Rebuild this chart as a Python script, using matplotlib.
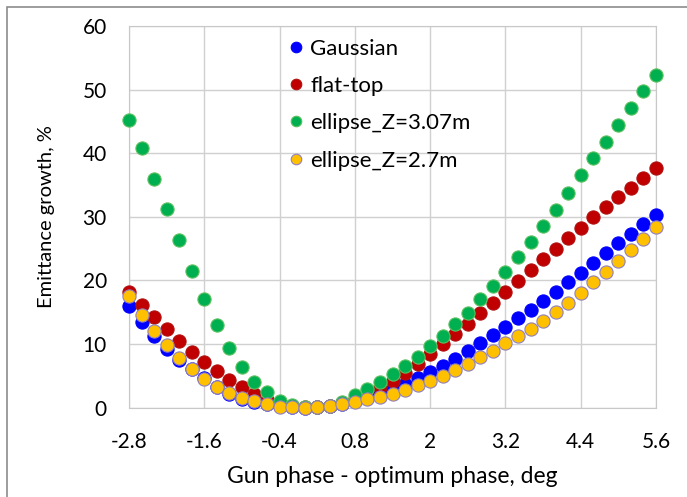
import numpy as np
import matplotlib
matplotlib.use('Agg')
import matplotlib.pyplot as plt
from matplotlib.patches import Rectangle

plt.rcParams['font.family'] = ['Lato', 'DejaVu Sans']

# gun phase offsets, deg
phase = [-2.8, -2.6, -2.4, -2.2, -2.0, -1.8, -1.6, -1.4, -1.2, -1.0, -0.8,
         -0.6, -0.4, -0.2, 0.0, 0.2, 0.4, 0.6, 0.8, 1.0, 1.2, 1.4, 1.6, 1.8,
         2.0, 2.2, 2.4, 2.6, 2.8, 3.0, 3.2, 3.4, 3.6, 3.8, 4.0, 4.2, 4.4,
         4.6, 4.8, 5.0, 5.2, 5.4, 5.6]

gaussian = [16.0, 13.4, 11.3, 9.2, 7.5, 6.0, 4.6, 3.3, 2.2, 1.4, 0.9,
            0.5, 0.2, 0.05, 0.0, 0.05, 0.2, 0.5, 1.0, 1.5, 2.2, 2.9, 3.7, 4.7,
            5.6, 6.6, 7.7, 8.9, 10.1, 11.4, 12.7, 14.0, 15.4, 16.8, 18.2, 19.8, 21.2,
            22.8, 24.3, 25.8, 27.3, 28.8, 30.3]

flat_top = [18.2, 16.1, 14.2, 12.3, 10.4, 8.7, 7.2, 5.7, 4.4, 3.2, 2.2,
            1.2, 0.6, 0.2, 0.05, 0.1, 0.3, 0.7, 1.4, 2.3, 3.2, 4.2, 5.5, 6.9,
            8.4, 10.0, 11.5, 13.2, 14.9, 16.5, 18.2, 19.9, 21.7, 23.3, 25.0, 26.7, 28.3,
            30.0, 31.6, 33.1, 34.6, 36.1, 37.6]

ellipse_307 = [45.2, 40.8, 36.0, 31.2, 26.3, 21.5, 17.1, 13.0, 9.3, 6.4, 4.0,
               2.4, 1.1, 0.4, 0.1, 0.1, 0.3, 0.9, 2.0, 2.9, 4.0, 5.3, 6.6, 8.0,
               9.6, 11.3, 13.1, 14.9, 17.0, 19.1, 21.3, 23.6, 26.1, 28.5, 31.1, 33.8, 36.5,
               39.2, 41.8, 44.4, 47.1, 49.7, 52.3]

ellipse_27 = [17.5, 14.6, 12.1, 9.8, 7.8, 6.0, 4.5, 3.3, 2.3, 1.5, 0.95,
              0.5, 0.15, 0.05, 0.0, 0.05, 0.2, 0.5, 0.9, 1.3, 1.7, 2.2, 2.8, 3.5,
              4.2, 5.0, 5.9, 6.9, 7.9, 8.9, 10.1, 11.3, 12.4, 13.6, 15.0, 16.5, 18.0,
              19.7, 21.3, 23.0, 24.7, 26.5, 28.4]

x_ticks = [-2.8, -1.6, -0.4, 0.8, 2.0, 3.2, 4.4, 5.6]
x_tick_labels = ['-2.8', '-1.6', '-0.4', '0.8', '2', '3.2', '4.4', '5.6']
y_ticks = [0, 10, 20, 30, 40, 50, 60]

series = [
    ('Gaussian', gaussian, '#0000ff', '#0000ff'),
    ('flat-top', flat_top, '#c00000', '#b01010'),
    ('ellipse_Z=3.07m', ellipse_307, '#00b050', '#5cc060'),
    ('ellipse_Z=2.7m', ellipse_27, '#ffc000', '#9080c0'),
]

fig = plt.figure(figsize=(6.87, 4.97), dpi=100)
ax = fig.add_axes([129 / 687, 1 - 407.5 / 497, 527 / 687, 381.5 / 497])

for name, vals, face, edge in series:
    ax.plot(phase, vals, linestyle='none', marker='o', markersize=9.5,
            markerfacecolor=face, markeredgecolor=edge, markeredgewidth=0.8,
            label=name, clip_on=False, zorder=3)

ax.set_xlim(-2.8, 5.6)
ax.set_ylim(0, 60)
ax.set_xticks(x_ticks)
ax.set_xticklabels(x_tick_labels)
ax.set_yticks(y_ticks)
ax.tick_params(length=0, labelsize=15)
ax.tick_params(axis='x', pad=18)
ax.tick_params(axis='y', pad=16)
ax.grid(True, color='#d0d0d0', linewidth=1)
ax.set_axisbelow(True)
for sp in ax.spines.values():
    sp.set_color('#c8c8c8')

ax.set_xlabel('Gun phase - optimum phase, deg', fontsize=16.5, labelpad=10)
ax.set_ylabel('Emittance growth, %', fontsize=14.5, labelpad=20)

ax.legend(loc='upper left', bbox_to_anchor=(279 / 687, 1 - 27.5 / 497),
          bbox_transform=fig.transFigure, frameon=False, fontsize=16,
          markerscale=0.8, handlelength=0.5, handletextpad=0.4,
          labelspacing=0.78, borderpad=0)

fig.patches.append(Rectangle((7 / 687, -0.1), 1.2, 1 - 7 / 497 + 0.1,
                             transform=fig.transFigure, fill=False,
                             edgecolor='#8c8c8c', linewidth=1.2))

fig.savefig('out.png', dpi=100)
